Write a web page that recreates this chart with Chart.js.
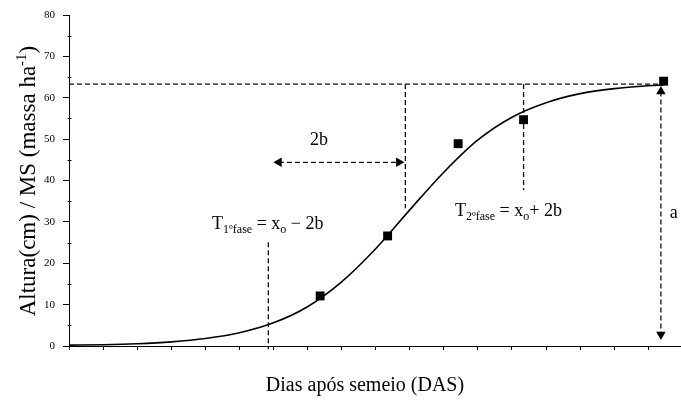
<!DOCTYPE html>
<html><head><meta charset="utf-8">
<script src="https://cdn.jsdelivr.net/npm/chart.js@4"></script>
<style>html,body{margin:0;padding:0;background:#fff;overflow:hidden}#wrap{width:681px;height:403px}</style>
</head><body><div id="wrap"><canvas id="c" width="681" height="403"></canvas></div>
<script>
// ---- data ----
const xTicks = [0,1,2,3,4,5,6,7,8,9,10,11,12,13,14,15,16,17];
const yTicks = [0,10,20,30,40,50,60,70,80];
const curveX = [0,1,2,3,4,5,6,7,8,9,10,11,12,13,14,15,16,17,17.45];
const curveY = [0.2,0.3,0.55,1.0,1.8,3.2,5.6,9.5,15.5,23.5,32.9,42.0,49.8,55.3,58.8,61.0,62.2,62.9,63.1];
const obsX = [7.37,9.35,11.42,13.34,17.45];
const obsY = [12.1,26.6,48.9,54.7,64.0];
// guide lines (asymptote a, inflection x0, phase limits)
const asymX = [0,17.45];   const asymY = [63.3,63.3];
const x0X = [9.87,9.87];   const x0Y = [63.3,33.3];
const t2X = [13.34,13.34]; const t2Y = [63.3,37.7];
const t1X = [5.85,5.85];   const t1Y = [25.1,-0.8];
const bArrowX = [6.16,9.68]; const bArrowY = [44.4,44.4];
const aArrowX = [17.37,17.37]; const aArrowY = [61.5,2.8];

const pts = (xs, ys) => xs.map((x, i) => ({x, y: ys[i]}));
const SERIF = "'Liberation Serif','Times New Roman',serif";
const dashed = {showLine:true, borderColor:'#111', borderWidth:1.3, borderDash:[5,3], pointRadius:0, clip:false};

const labels = [
  {x:4.2, y:28.3, segs:[['T',18,0],['1ºfase',12,4],[' = x',18,0],['o',12,4],[' − 2b',18,0]]},
  {x:11.33, y:31.4, segs:[['T',18,0],['2ºfase',12,4],[' = x',18,0],['o',12,4],['+ 2b',18,0]]},
  {x:7.07, y:48.6, segs:[['2b',18,0]]},
  {x:17.63, y:31.0, segs:[['a',18,0]]}
];

function drawSegs(ctx, segs, x, y) {
  for (const [t, s, dy] of segs) {
    ctx.font = s + 'px ' + SERIF;
    ctx.fillText(t, x, y + dy);
    x += ctx.measureText(t).width;
  }
}
function segsWidth(ctx, segs) {
  let w = 0;
  for (const [t, s] of segs) { ctx.font = s + 'px ' + SERIF; w += ctx.measureText(t).width; }
  return w;
}

const extras = {
  id: 'extras',
  afterDraw(chart) {
    const ctx = chart.ctx, xs = chart.scales.x, ys = chart.scales.y;
    ctx.save();
    ctx.strokeStyle = '#000'; ctx.lineWidth = 1;
    // minor y ticks
    for (let v = 5; v < 80; v += 10) {
      const py = Math.round(ys.getPixelForValue(v)) + 0.5;
      ctx.beginPath(); ctx.moveTo(xs.left - 1.5, py); ctx.lineTo(xs.left + 2.5, py); ctx.stroke();
    }
    ctx.fillStyle = '#000';
    ctx.textBaseline = 'alphabetic'; ctx.textAlign = 'left';
    for (const l of labels) {
      drawSegs(ctx, l.segs, xs.getPixelForValue(l.x), ys.getPixelForValue(l.y));
    }
    // y title
    const ySegs = [['Altura(cm) / MS (massa ha',23,0],['-1',15,-9],[')',23,0]];
    ctx.save();
    ctx.translate(35, 181);
    ctx.rotate(-Math.PI / 2);
    drawSegs(ctx, ySegs, -segsWidth(ctx, ySegs) / 2, 0);
    ctx.restore();
    // x title
    const xSegs = [['Dias após semeio (DAS)',20,0]];
    drawSegs(ctx, xSegs, 365 - segsWidth(ctx, xSegs) / 2, 391);
    ctx.restore();
  }
};

new Chart(document.getElementById('c'), {
  type: 'scatter',
  data: {
    datasets: [
      {data: pts(obsX, obsY), pointStyle:'rect', pointRadius:6.3, pointBackgroundColor:'#000', pointBorderWidth:0, showLine:false},
      {data: pts(curveX, curveY), showLine:true, borderColor:'#000', borderWidth:1.6, pointRadius:0, cubicInterpolationMode:'monotone'},
      Object.assign({data: pts(asymX, asymY)}, dashed),
      Object.assign({data: pts(x0X, x0Y)}, dashed),
      Object.assign({data: pts(t2X, t2Y)}, dashed),
      Object.assign({data: pts(t1X, t1Y)}, dashed),
      Object.assign({}, dashed, {data: pts(bArrowX, bArrowY), pointRadius:5.5, pointStyle:'triangle', pointRotation:[270,90], pointBackgroundColor:'#000', pointBorderWidth:0}),
      Object.assign({}, dashed, {data: pts(aArrowX, aArrowY), pointRadius:5.5, pointStyle:'triangle', pointRotation:[0,180], pointBackgroundColor:'#000', pointBorderWidth:0})
    ]
  },
  options: {
    responsive: false, animation: false, devicePixelRatio: 1,
    layout: {autoPadding: false, padding: {top: 15, right: 0, left: 0, bottom: 0}},
    plugins: {legend: {display: false}, tooltip: {enabled: false}},
    scales: {
      x: {
        type: 'linear', min: 0, max: 17.96,
        afterBuildTicks: s => { s.ticks = xTicks.map(v => ({value: v})); },
        afterFit: s => { s.height = 57; s.paddingLeft = 0; s.paddingRight = 0; },
        ticks: {display: false},
        grid: {drawOnChartArea: false, drawTicks: true, tickLength: 4, color: '#000'},
        border: {display: true, color: '#000', width: 1}
      },
      y: {
        min: 0, max: 80,
        afterBuildTicks: s => { s.ticks = yTicks.map(v => ({value: v})); },
        afterFit: s => { s.width = 69; },
        ticks: {color: '#000', padding: 8, font: {family: SERIF, size: 11}},
        grid: {drawOnChartArea: false, drawTicks: true, tickLength: 6, color: '#000'},
        border: {display: true, color: '#000', width: 1}
      }
    }
  },
  plugins: [extras]
});
</script>
</body></html>
